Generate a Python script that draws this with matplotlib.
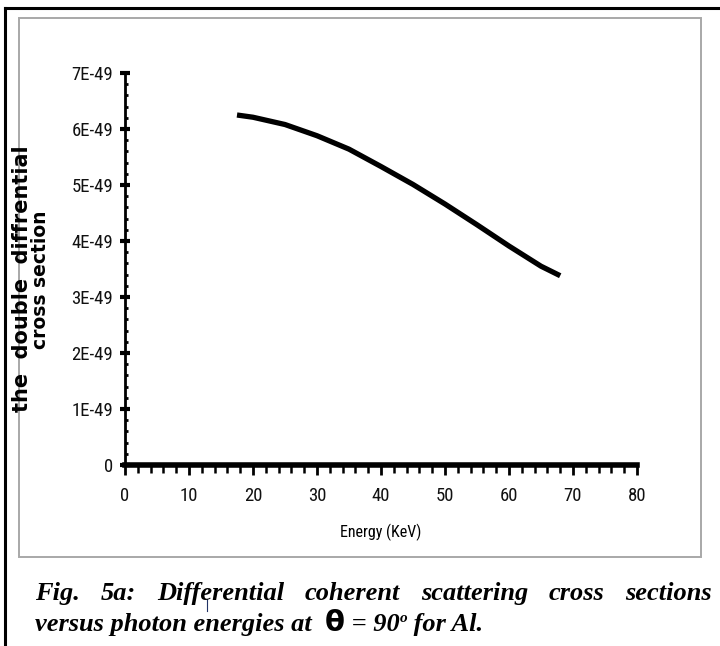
import matplotlib
matplotlib.use("Agg")
import matplotlib.pyplot as plt
from matplotlib import font_manager
from matplotlib.lines import Line2D
from matplotlib.patches import Rectangle

# photon energy (keV) and double differential cross section (units of 1E-49)
energy = [17.5, 20, 25, 30, 35, 40, 45, 50, 55, 60, 65, 68]
sigma = [6.25, 6.21, 6.08, 5.88, 5.64, 5.33, 5.01, 4.66, 4.29, 3.91, 3.55, 3.38]
scale = 1e-49

x_ticks = [0, 10, 20, 30, 40, 50, 60, 70, 80]
y_ticks = [0, 1, 2, 3, 4, 5, 6, 7]
y_tick_labels = ["0", "1E-49", "2E-49", "3E-49", "4E-49", "5E-49", "6E-49", "7E-49"]

caption_1 = ["Fig.", "5a:", "Differential", "coherent", "scattering", "cross", "sections"]

W, H = 720, 646


def pick_font(names):
    for n in names:
        try:
            font_manager.findfont(n, fallback_to_default=False)
            return n
        except Exception:
            continue
    return "DejaVu Sans"


narrow = pick_font(["Liberation Sans Narrow", "DejaVu Sans Condensed", "Roboto Condensed", "Liberation Sans"])


def fx(px):
    return px / W


def fy(py):
    return 1 - py / H


fig = plt.figure(figsize=(W / 100, H / 100), dpi=100)
fig.patch.set_facecolor("white")

# page border and chart frame
fig.add_artist(Line2D([fx(5), fx(5)], [fy(8), 0], color="black", lw=2.2, transform=fig.transFigure))
fig.add_artist(Line2D([fx(5), 1], [fy(8), fy(8)], color="black", lw=2.2, transform=fig.transFigure))
fig.add_artist(Rectangle((fx(19), fy(557)), fx(701) - fx(19), fy(18) - fy(557),
                         fill=False, ec="#a8a8a8", lw=1.4, transform=fig.transFigure))

ax = fig.add_axes([fx(125), fy(465), fx(637) - fx(125), fy(73) - fy(465)])
ax.plot(energy, [v * scale for v in sigma], color="black", lw=3.8, solid_capstyle="butt")

ax.set_xlim(0, 80)
ax.set_ylim(0, 7 * scale)
ax.set_xticks(x_ticks)
ax.set_xticklabels([str(t) for t in x_ticks])
ax.set_xticks(range(0, 81, 2), minor=True)
ax.set_yticks([t * scale for t in y_ticks])
ax.set_yticklabels(y_tick_labels)
ax.set_yticks([i * 0.2 * scale for i in range(36)], minor=True)

for s in ["top", "right"]:
    ax.spines[s].set_visible(False)
ax.spines["bottom"].set_linewidth(4)
ax.spines["left"].set_linewidth(2)

ax.tick_params(axis="x", which="major", direction="out", length=7, width=2, pad=9)
ax.tick_params(axis="x", which="minor", direction="out", length=5.5, width=1.8)
ax.tick_params(axis="y", which="major", direction="inout", length=7, width=3, pad=5)
ax.tick_params(axis="y", which="minor", direction="in", length=2.5, width=2)
for lab in ax.get_xticklabels() + ax.get_yticklabels():
    lab.set_fontfamily(narrow)
    lab.set_fontsize(13.5)
    lab.set_color("#111111")

ax.set_xlabel("Energy (KeV)", fontfamily=narrow, fontsize=11.5, labelpad=13)

# rotated y-axis title, two lines
fig.text(fx(22), fy(279), "the  double  diffrential", rotation=90, ha="center", va="center",
         fontsize=15, fontweight="bold", family="DejaVu Sans")
fig.text(fx(41), fy(280), "cross section", rotation=90, ha="center", va="center",
         fontsize=13.5, fontweight="bold", family="DejaVu Sans")

# caption, first line justified between the margins
cap_kw = dict(family="Liberation Serif", fontsize=19, fontweight="bold", fontstyle="italic")
renderer = fig.canvas.get_renderer()
left, right = 35, 712
words = [fig.text(0, fy(600), w, **cap_kw) for w in caption_1]
widths = [t.get_window_extent(renderer).width for t in words]
gap = (right - left - sum(widths)) / (len(words) - 1)
x = left
for t, w in zip(words, widths):
    t.set_x(fx(x))
    x += w + gap

# second line with theta and degree sign
pieces = [
    ("versus photon energies at  ", cap_kw, 0),
    ("θ", dict(family="DejaVu Sans", fontsize=21, fontweight="bold"), 0),
    (" = 90", cap_kw, 0),
    ("o", dict(family="Liberation Serif", fontsize=11, fontweight="bold", fontstyle="italic"), 9),
    (" for Al.", cap_kw, 0),
]
x = 35
for txt, kw, rise in pieces:
    t = fig.text(fx(x), fy(631 - rise), txt, **kw)
    x += t.get_window_extent(renderer).width

fig.add_artist(Line2D([fx(207), fx(207)], [fy(599), fy(611)], color="#223366", lw=0.8,
                      transform=fig.transFigure))

fig.savefig("out.png", dpi=100)
